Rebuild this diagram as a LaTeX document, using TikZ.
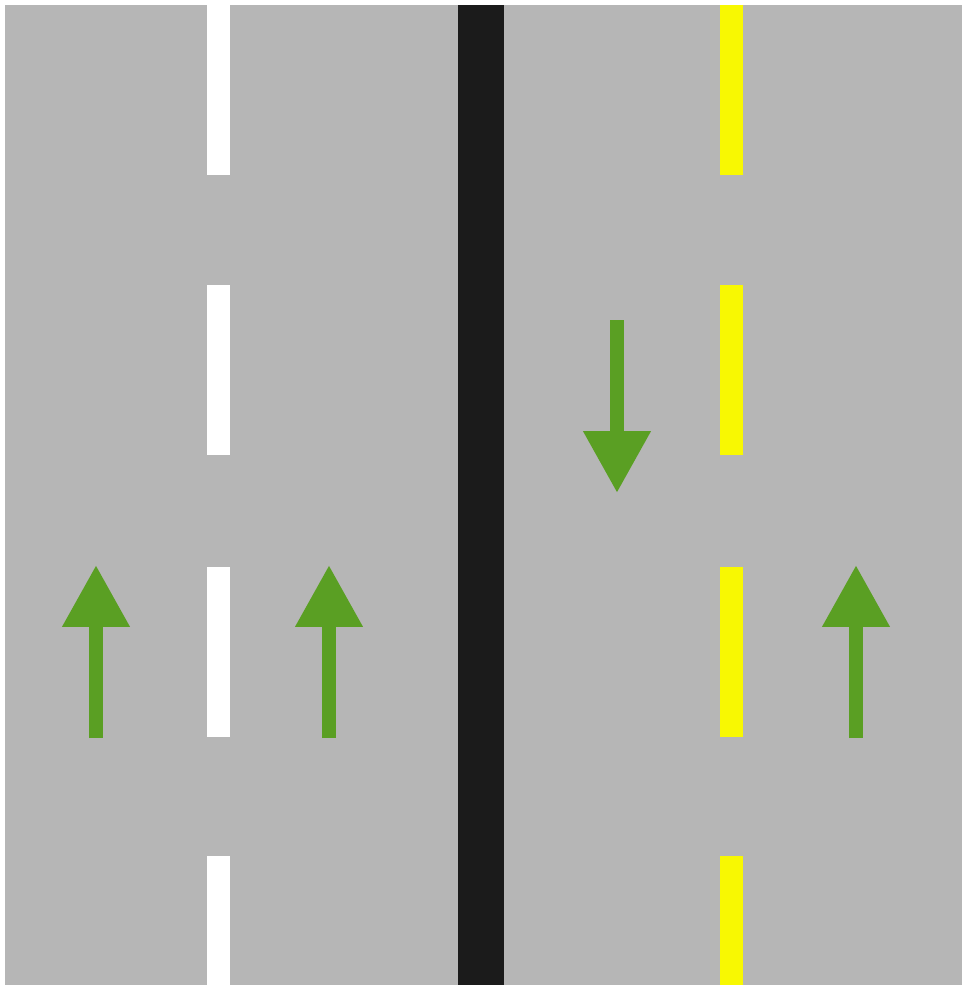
\documentclass[tikz,border=0pt]{standalone}
\usepackage{tikz}
\usetikzlibrary{arrows.meta}
\definecolor{roadgray}{RGB}{182, 182, 182}
\definecolor{medianblack}{RGB}{27, 27, 27}
\definecolor{lanegreen}{RGB}{90, 159, 35}
\definecolor{laneyellow}{RGB}{248, 248, 2}

\begin{document}
\begin{tikzpicture}[x=0.02cm, y=-0.02cm,
    lanearrow/.style={lanegreen, line width=0.28cm,
      -{Triangle[length=1.24cm, width=1.28cm]}}]
  \useasboundingbox[fill=white] (0, 0) rectangle (962, 985);
  \fill[roadgray] (5, 5) rectangle (962, 985);
  \fill[medianblack] (458, 5) rectangle (504, 985);
  \foreach \ya/\yb in {5/175, 285/455, 567/737, 856/985} {
    \fill[white]      (207, \ya) rectangle (230, \yb);
    \fill[laneyellow] (720, \ya) rectangle (743, \yb);
  }
  \coordinate (la) at (96, 738);  \coordinate (lb) at (96, 565);
  \coordinate (ma) at (329, 738); \coordinate (mb) at (329, 565);
  \coordinate (ra) at (856, 738); \coordinate (rb) at (856, 565);
  \coordinate (da) at (617, 320); \coordinate (db) at (617, 493);
  \draw[lanearrow] (la) -- (lb);
  \draw[lanearrow] (ma) -- (mb);
  \draw[lanearrow] (ra) -- (rb);
  \draw[lanearrow] (da) -- (db);
\end{tikzpicture}
\end{document}
